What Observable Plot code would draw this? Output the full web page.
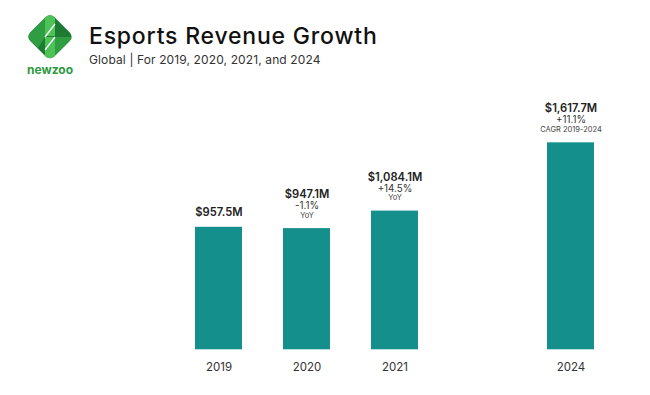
<!DOCTYPE html>
<html><head><meta charset="utf-8">
<script src="https://cdn.jsdelivr.net/npm/d3@7"></script>
<script src="https://cdn.jsdelivr.net/npm/@observablehq/plot@0.6"></script>
<style>
body{margin:0;background:#fff;font-family:Inter,"Noto Sans",sans-serif;}
#header{position:relative;width:650px;height:85px;}
#logo{position:absolute;left:0;top:0;}
#title{position:absolute;left:89px;top:22px;font-size:23px;font-weight:500;color:#111;white-space:nowrap;letter-spacing:0.8px;}
#subtitle{position:absolute;left:89px;top:52px;font-size:12px;color:#333;white-space:nowrap;letter-spacing:0.12px;}
#chart{width:650px;height:310px;}
</style></head><body>
<div id="header">
  <svg id="logo" width="85" height="85" viewBox="0 0 85 85">
    <defs><clipPath id="dia"><rect x="33" y="19.7" width="34" height="34" rx="6" transform="rotate(45 50 36.7)"/></clipPath></defs>
    <rect x="33" y="19.7" width="34" height="34" rx="6" transform="rotate(45 50 36.7)" fill="#1d7a33"/>
    <g clip-path="url(#dia)">
      <polygon points="26,36.7 45,17 45,37 38,48" fill="#2f9e43"/>
      <polygon points="45,12 55,12 55,36 45,36" fill="#4cc257"/>
      <polygon points="45,37 55,37 55,62 45,62" fill="#4cc257"/>
      <polygon points="55,37 74,37 55,56" fill="#2f9e43"/>
      <line x1="45" y1="37" x2="55" y2="24" stroke="#fff" stroke-width="1.3"/>
      <line x1="45" y1="50" x2="55" y2="37" stroke="#fff" stroke-width="1.3"/>
    </g>
    <text x="50" y="73.5" text-anchor="middle" font-family="Inter,sans-serif" font-weight="700" font-size="12" fill="#2c9a3c">newzoo</text>
  </svg>
  <div id="title">Esports Revenue Growth</div>
  <div id="subtitle">Global | For 2019, 2020, 2021, and 2024</div>
</div>
<div id="chart"></div>
<script>
const years = ["2019", "2020", "2021", "2024"];
const revenue = [957.5, 947.1, 1084.1, 1617.7];
const valueLabels = ["$957.5M", "$947.1M", "$1,084.1M", "$1,617.7M"];
const changeLabels = ["", "-1.1%", "+14.5%", "+11.1%"];
const noteLabels = ["", "YoY", "YoY", "CAGR 2019-2024"];

const data = years.map((year, i) => ({
  year, revenue: revenue[i], value: valueLabels[i], change: changeLabels[i], note: noteLabels[i]
}));

const font = "Inter, 'Noto Sans', sans-serif";
const chart = Plot.plot({
  width: 650,
  height: 310,
  marginLeft: 152.7,
  marginRight: 13.8,
  marginTop: 34,
  marginBottom: 45.7,
  style: {fontFamily: font, background: "transparent"},
  x: {type: "band", domain: ["2019", "2020", "2021", " ", "2024"], padding: 0.47, label: null},
  y: {domain: [0, 1800], axis: null},
  marks: [
    Plot.barY(data, {x: "year", y: "revenue", fill: "#148f8b"}),
    Plot.axisX({ticks: years, tickSize: 0, tickPadding: 13.5, fontSize: 11.5, color: "#333", label: null}),
    Plot.text(data.filter(d => d.change), {x: "year", y: "revenue", text: "value", dy: -34, fontSize: 11.2, fontWeight: 600, fill: "#222", lineAnchor: "middle"}),
    Plot.text(data.filter(d => !d.change), {x: "year", y: "revenue", text: "value", dy: -14.5, fontSize: 11.2, fontWeight: 600, fill: "#222", lineAnchor: "middle"}),
    Plot.text(data, {x: "year", y: "revenue", text: "change", dy: -22.5, fontSize: 9.8, fill: "#333", lineAnchor: "middle"}),
    Plot.text(data, {x: "year", y: "revenue", text: "note", dy: -13.5, fontSize: 7.5, fill: "#444", lineAnchor: "middle"})
  ]
});
document.getElementById("chart").appendChild(chart);
</script>
</body></html>
